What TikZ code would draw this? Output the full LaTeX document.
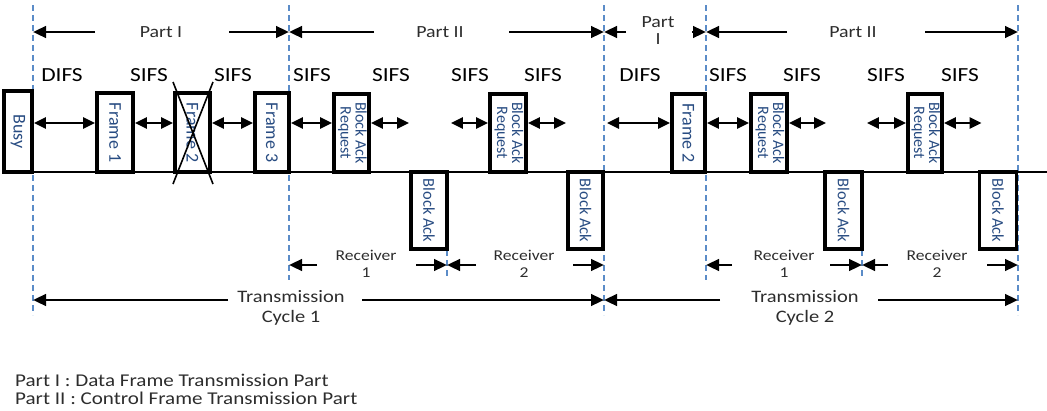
\documentclass[tikz,border=0pt]{standalone}
\usepackage{fontspec}
\setmainfont{Carlito}
\newfontfamily\wide{Carlito}[FakeStretch=1.17]
\usetikzlibrary{arrows.meta}
\definecolor{dashblue}{RGB}{91,140,200}
\definecolor{txtblue}{RGB}{40,76,130}
\definecolor{txtgray}{RGB}{45,45,45}
\begin{document}
\begin{tikzpicture}[x=1pt,y=-1pt,
  frame/.style={draw, line width=3.8pt, fill=white, inner sep=0pt, text=txtblue,
    font=\fontsize{18}{18}\selectfont},
  bar/.style={frame, font=\fontsize{16}{15}\selectfont},
  vline/.style={dashblue, line width=1.8pt, dash pattern=on 6pt off 4pt},
  dbl/.style={line width=2.7pt, {Triangle[length=12pt,width=11pt]}-{Triangle[length=12pt,width=11pt]}},
  arr/.style={line width=2.7pt, -{Triangle[length=13pt,width=11.5pt]}},
  ifs/.style={font=\wide\fontsize{20}{22}\selectfont, inner sep=0pt},
  part/.style={font=\wide\fontsize{17}{17}\selectfont, text=txtgray, inner sep=0pt, align=center},
  recv/.style={font=\wide\fontsize{15}{17}\selectfont, text=txtgray, inner sep=0pt, align=center},
  trans/.style={font=\wide\fontsize{17.5}{20}\selectfont, text=txtgray, inner sep=0pt, align=center, anchor=north},
  legend/.style={font=\wide\fontsize{18}{18}\selectfont, text=txtgray, inner sep=0pt, anchor=west}
]
\useasboundingbox (0,0) rectangle (1047,410);
% dashed vertical lines
\coordinate (v1) at (33,5);  \coordinate (v1b) at (33,315);
\coordinate (v2) at (289,5); \coordinate (v2b) at (289,280);
\coordinate (v3) at (604,5); \coordinate (v3b) at (604,315);
\coordinate (v4) at (706,5); \coordinate (v4b) at (706,280);
\coordinate (v5) at (1018,5); \coordinate (v5b) at (1018,315);
\coordinate (r1) at (447,250); \coordinate (r1b) at (447,278);
\coordinate (r2) at (862,250); \coordinate (r2b) at (862,278);
\foreach \a/\b in {v1/v1b,v2/v2b,v3/v3b,v4/v4b,v5/v5b,r1/r1b,r2/r2b}
  \draw[vline] (\a) -- (\b);
% base line
\coordinate (L) at (3,172); \coordinate (R) at (1047,172);
\draw[line width=2.6pt] (L) -- (R);
% frames above line
\node[frame, minimum width=28pt, minimum height=81pt] (busy) at (18,131.5) {\rotatebox{-90}{Busy}};
\node[frame, minimum width=36pt, minimum height=79pt] (f1) at (115,132.5) {\rotatebox{-90}{Frame 1}};
\node[frame, minimum width=35pt, minimum height=79pt] (f2) at (192.5,132.5) {\rotatebox{-90}{Frame 2}};
\node[frame, minimum width=34pt, minimum height=79pt] (f3) at (272,132.5) {\rotatebox{-90}{Frame 3}};
\node[bar, minimum width=35pt, minimum height=78pt] (bar1) at (351.5,133) {\rotatebox{-90}{\begin{tabular}{@{}c@{}}Block Ack\\Request\end{tabular}}};
\node[bar, minimum width=36pt, minimum height=78pt] (bar2) at (508,133) {\rotatebox{-90}{\begin{tabular}{@{}c@{}}Block Ack\\Request\end{tabular}}};
\node[frame, minimum width=33pt, minimum height=78pt] (f2b) at (688.5,133) {\rotatebox{-90}{Frame 2}};
\node[bar, minimum width=36pt, minimum height=78pt] (bar3) at (769,133) {\rotatebox{-90}{\begin{tabular}{@{}c@{}}Block Ack\\Request\end{tabular}}};
\node[bar, minimum width=34pt, minimum height=78pt] (bar4) at (925,133) {\rotatebox{-90}{\begin{tabular}{@{}c@{}}Block Ack\\Request\end{tabular}}};
% block acks below line
\node[frame, font=\fontsize{16.5}{17}\selectfont, minimum width=36pt, minimum height=77pt] (ba1) at (429,210.5) {\rotatebox{-90}{Block Ack}};
\node[frame, font=\fontsize{16.5}{17}\selectfont, minimum width=35pt, minimum height=77pt] (ba2) at (585.5,210.5) {\rotatebox{-90}{Block Ack}};
\node[frame, font=\fontsize{16.5}{17}\selectfont, minimum width=37pt, minimum height=77pt] (ba3) at (843.5,210.5) {\rotatebox{-90}{Block Ack}};
\node[frame, font=\fontsize{16.5}{17}\selectfont, minimum width=37pt, minimum height=77pt] (ba4) at (998,210.5) {\rotatebox{-90}{Block Ack}};
% cross over lost frame 2
\coordinate (x1) at (173,82); \coordinate (x2) at (213,184);
\coordinate (x3) at (213,82); \coordinate (x4) at (173,184);
\draw[line width=1.6pt] (x1) -- (x2);
\draw[line width=1.6pt] (x3) -- (x4);
% interframe space arrows
\coordinate (ay) at (0,123);
\draw[dbl] (busy.east |- ay) -- (f1.west |- ay);
\draw[dbl] (f1.east |- ay) -- (f2.west |- ay);
\draw[dbl] (f2.east |- ay) -- (f3.west |- ay);
\draw[dbl] (f3.east |- ay) -- (bar1.west |- ay);
\draw[dbl] (bar1.east |- ay) -- (ba1.west |- ay);
\draw[dbl, shorten <=2pt] (ba1.east |- ay) -- (bar2.west |- ay);
\draw[dbl] (bar2.east |- ay) -- (ba2.west |- ay);
\draw[dbl, shorten <=3pt] (v3 |- ay) -- (f2b.west |- ay);
\draw[dbl] (f2b.east |- ay) -- (bar3.west |- ay);
\draw[dbl, shorten >=-3pt] (bar3.east |- ay) -- (ba3.west |- ay);
\draw[dbl, shorten <=3pt] (ba3.east |- ay) -- (bar4.west |- ay);
\draw[dbl, shorten >=-4pt] (bar4.east |- ay) -- (ba4.west |- ay);
% DIFS / SIFS labels
\foreach \x/\t [count=\i] in {62/DIFS,149/SIFS,233/SIFS,312/SIFS,391/SIFS,470/SIFS,543/SIFS,640/DIFS,728/SIFS,802/SIFS,886/SIFS,960/SIFS}
  \node[ifs] (ifs\i) at (\x,75) {\t};
% Part arrows
\node[part] (pI) at (161,32) {Part I};
\draw[arr] ([xshift=-66pt]pI.center) -- (pI.center -| v1);
\draw[arr] ([xshift=68pt]pI.center) -- (pI.center -| v2);
\node[part] (pII) at (440,32) {Part II};
\draw[arr] ([xshift=-66pt]pII.center) -- (pII.center -| v2);
\draw[arr] ([xshift=69pt]pII.center) -- (pII.center -| v3);
\node[part] (pIb) at (658,31) {Part\\I};
\coordinate (py) at (0,32);
\draw[arr] ([xshift=-32pt]pIb.center |- py) -- (v3 |- py);
\draw[arr] ([xshift=34pt]pIb.center |- py) -- (v4 |- py);
\node[part] (pIIb) at (853,32) {Part II};
\draw[arr] ([xshift=-66pt]pIIb.center) -- (pIIb.center -| v4);
\draw[arr] ([xshift=72pt]pIIb.center) -- (pIIb.center -| v5);
% Receiver arrows
\coordinate (ry) at (0,265);
\node[recv] (rc1) at (366,264) {Receiver\\1};
\draw[arr] ([xshift=-49pt]rc1.center |- ry) -- (v2 |- ry);
\draw[arr] ([xshift=50pt]rc1.center |- ry) -- (r1 |- ry);
\node[recv] (rc2) at (524,264) {Receiver\\2};
\draw[arr] ([xshift=-48pt]rc2.center |- ry) -- (r1 |- ry);
\draw[arr] ([xshift=49pt]rc2.center |- ry) -- (v3 |- ry);
\node[recv] (rc3) at (784,264) {Receiver\\1};
\draw[arr] ([xshift=-52pt]rc3.center |- ry) -- (v4 |- ry);
\draw[arr] ([xshift=46pt]rc3.center |- ry) -- (r2 |- ry);
\node[recv] (rc4) at (937,264) {Receiver\\2};
\draw[arr] ([xshift=-49pt]rc4.center |- ry) -- (r2 |- ry);
\draw[arr] ([xshift=50pt]rc4.center |- ry) -- (v5 |- ry);
% Transmission cycle arrows
\coordinate (ty) at (0,300);
\node[trans] (tc1) at (291,290) {Transmission\\Cycle 1};
\draw[arr] ([xshift=-63pt]tc1.center |- ty) -- (v1 |- ty);
\draw[arr] ([xshift=71pt]tc1.center |- ty) -- (v3 |- ty);
\node[trans] (tc2) at (805,290) {Transmission\\Cycle 2};
\draw[arr] ([xshift=-85pt]tc2.center |- ty) -- (v3 |- ty);
\draw[arr] ([xshift=73pt]tc2.center |- ty) -- (v5 |- ty);
% legend
\node[legend] (lg1) at (15,380) {Part I : Data Frame Transmission Part};
\node[legend] (lg2) at (15,398) {Part II : Control Frame Transmission Part};
\end{tikzpicture}
\end{document}
